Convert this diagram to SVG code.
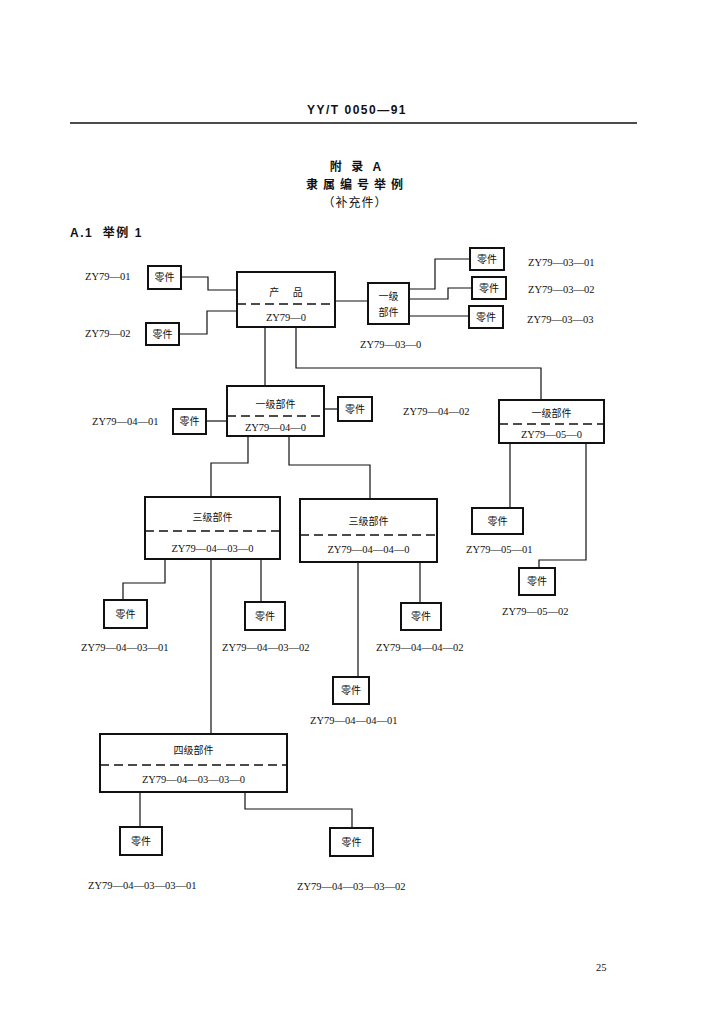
<svg xmlns="http://www.w3.org/2000/svg" width="711" height="1024" viewBox="0 0 711 1024">
<style>
.bg{fill:#fff}
.box{fill:#fff;stroke:#111;stroke-width:2}
.dash{stroke:#111;stroke-width:1.4;stroke-dasharray:9,5;fill:none}
.ln{stroke:#111;stroke-width:1.2;fill:none}
.cj{font-family:"Noto Sans CJK SC","Noto Sans",sans-serif;font-size:10px;fill:#111;text-anchor:middle}
.lb{font-family:"Liberation Serif","Noto Sans CJK SC",serif;font-size:10.5px;fill:#111}
.lbm{font-family:"Liberation Serif","Noto Sans CJK SC",serif;font-size:10.5px;fill:#111;text-anchor:middle}
.hd{font-family:"Liberation Sans","Noto Sans CJK SC",sans-serif;font-weight:bold;fill:#111;text-anchor:middle}
</style>
<rect class="bg" x="0" y="0" width="711" height="1024"/>
<g id="header">
<text class="hd" x="357" y="114" font-size="12" letter-spacing="1.5">YY/T 0050—91</text>
<line x1="70" y1="123" x2="637" y2="123" stroke="#111" stroke-width="1.5"/>
<text class="hd" x="357" y="171" font-size="12" letter-spacing="3">附 录 A</text>
<text class="hd" x="357" y="189" font-size="12" letter-spacing="5">隶属编号举例</text>
<text class="cj" x="355" y="207" style="font-size:12px" letter-spacing="1">（补充件）</text>
<text x="70" y="237" font-family="Liberation Sans,'Noto Sans CJK SC',sans-serif" font-size="12" font-weight="bold" fill="#111" letter-spacing="1.5" xml:space="preserve">A.1  举例 1</text>
</g>
<g id="connectors">
<polyline class="ln" points="181,277 208,277 208,290 237,290"/>
<polyline class="ln" points="179,334 207,334 207,311 237,311"/>
<polyline class="ln" points="335,301 368,301"/>
<polyline class="ln" points="409,289 435,289 435,259 470,259"/>
<polyline class="ln" points="409,299 448,299 448,288 472,288"/>
<polyline class="ln" points="409,316 469,316"/>
<polyline class="ln" points="265,327 265,386"/>
<polyline class="ln" points="296,327 296,368 541,368 541,400"/>
<polyline class="ln" points="206,421 227,421"/>
<polyline class="ln" points="324,409 338,409"/>
<polyline class="ln" points="510,443 510,508"/>
<polyline class="ln" points="586,443 586,560 539,560 539,568"/>
<polyline class="ln" points="248,436 248,463 211,463 211,497"/>
<polyline class="ln" points="289,436 289,465 370,465 370,499"/>
<polyline class="ln" points="165,559 165,583 123,583 123,600"/>
<polyline class="ln" points="211,559 211,734"/>
<polyline class="ln" points="261,559 261,602"/>
<polyline class="ln" points="358,562 358,677"/>
<polyline class="ln" points="420,562 420,603"/>
<polyline class="ln" points="140,792 140,827"/>
<polyline class="ln" points="245,792 245,809 352,809 352,828"/>
</g>
<g id="n-01"><rect class="box" x="148" y="266" width="33" height="23"/><text class="cj" x="164.5" y="281">零件</text><text class="lb" x="85" y="280">ZY79—01</text></g>
<g id="n-02"><rect class="box" x="146" y="323" width="33" height="22"/><text class="cj" x="162.5" y="338">零件</text><text class="lb" x="85" y="337">ZY79—02</text></g>
<g id="n-0"><rect class="box" x="237" y="272" width="98" height="55"/><line class="dash" x1="237" y1="304" x2="335" y2="304"/><text class="cj" x="286" y="296" xml:space="preserve">产      品</text><text class="lbm" x="286" y="321">ZY79—0</text></g>
<g id="n-03"><rect class="box" x="368" y="283" width="41" height="41"/><text class="cj" x="388.5" y="300">一级</text><text class="cj" x="388.5" y="316">部件</text><text class="lb" x="360" y="348">ZY79—03—0</text></g>
<g id="n-03-01"><rect class="box" x="470" y="248" width="34" height="22"/><text class="cj" x="487" y="263">零件</text><text class="lb" x="528" y="266">ZY79—03—01</text></g>
<g id="n-03-02"><rect class="box" x="472" y="277" width="34" height="22"/><text class="cj" x="489" y="292">零件</text><text class="lb" x="528" y="293">ZY79—03—02</text></g>
<g id="n-03-03"><rect class="box" x="469" y="306" width="34" height="22"/><text class="cj" x="486" y="321">零件</text><text class="lb" x="527" y="323">ZY79—03—03</text></g>
<g id="n-04"><rect class="box" x="227" y="386" width="97" height="50"/><line class="dash" x1="227" y1="416" x2="324" y2="416"/><text class="cj" x="275.5" y="408">一级部件</text><text class="lbm" x="275.5" y="431">ZY79—04—0</text></g>
<g id="n-04-01"><rect class="box" x="173" y="409" width="33" height="25"/><text class="cj" x="189.5" y="425">零件</text><text class="lb" x="92" y="425">ZY79—04—01</text></g>
<g id="n-04-02"><rect class="box" x="338" y="397" width="34" height="24"/><text class="cj" x="355" y="413">零件</text><text class="lb" x="403" y="415">ZY79—04—02</text></g>
<g id="n-05"><rect class="box" x="499" y="400" width="105" height="43"/><line class="dash" x1="499" y1="424" x2="604" y2="424"/><text class="cj" x="551.5" y="417">一级部件</text><text class="lbm" x="551.5" y="438">ZY79—05—0</text></g>
<g id="n-05-01"><rect class="box" x="472" y="508" width="51" height="26"/><text class="cj" x="497.5" y="525">零件</text><text class="lb" x="466" y="553">ZY79—05—01</text></g>
<g id="n-05-02"><rect class="box" x="519" y="568" width="36" height="27"/><text class="cj" x="537" y="585">零件</text><text class="lb" x="502" y="615">ZY79—05—02</text></g>
<g id="n-04-03"><rect class="box" x="145" y="497" width="135" height="62"/><line class="dash" x1="145" y1="531" x2="280" y2="531"/><text class="cj" x="212.5" y="521">三级部件</text><text class="lbm" x="212.5" y="552">ZY79—04—03—0</text></g>
<g id="n-04-04"><rect class="box" x="300" y="499" width="137" height="63"/><line class="dash" x1="300" y1="535" x2="437" y2="535"/><text class="cj" x="368.5" y="525">三级部件</text><text class="lbm" x="368.5" y="553">ZY79—04—04—0</text></g>
<g id="n-04-03-01"><rect class="box" x="104" y="600" width="43" height="28"/><text class="cj" x="125.5" y="618">零件</text><text class="lb" x="81" y="651">ZY79—04—03—01</text></g>
<g id="n-04-03-02"><rect class="box" x="245" y="602" width="40" height="28"/><text class="cj" x="265" y="620">零件</text><text class="lb" x="222" y="651">ZY79—04—03—02</text></g>
<g id="n-04-04-01"><rect class="box" x="333" y="677" width="36" height="27"/><text class="cj" x="351" y="694">零件</text><text class="lb" x="310" y="724">ZY79—04—04—01</text></g>
<g id="n-04-04-02"><rect class="box" x="401" y="603" width="40" height="27"/><text class="cj" x="421" y="620">零件</text><text class="lb" x="376" y="651">ZY79—04—04—02</text></g>
<g id="n-04-03-03"><rect class="box" x="100" y="734" width="187" height="58"/><line class="dash" x1="100" y1="765" x2="287" y2="765"/><text class="cj" x="193.5" y="754">四级部件</text><text class="lbm" x="193.5" y="783">ZY79—04—03—03—0</text></g>
<g id="n-04-03-03-01"><rect class="box" x="120" y="827" width="42" height="28"/><text class="cj" x="141" y="845">零件</text><text class="lb" x="88" y="889">ZY79—04—03—03—01</text></g>
<g id="n-04-03-03-02"><rect class="box" x="330" y="828" width="43" height="28"/><text class="cj" x="351.5" y="846">零件</text><text class="lb" x="297" y="890">ZY79—04—03—03—02</text></g>
<g id="footer"><text class="lb" x="596" y="971">25</text></g>
</svg>
